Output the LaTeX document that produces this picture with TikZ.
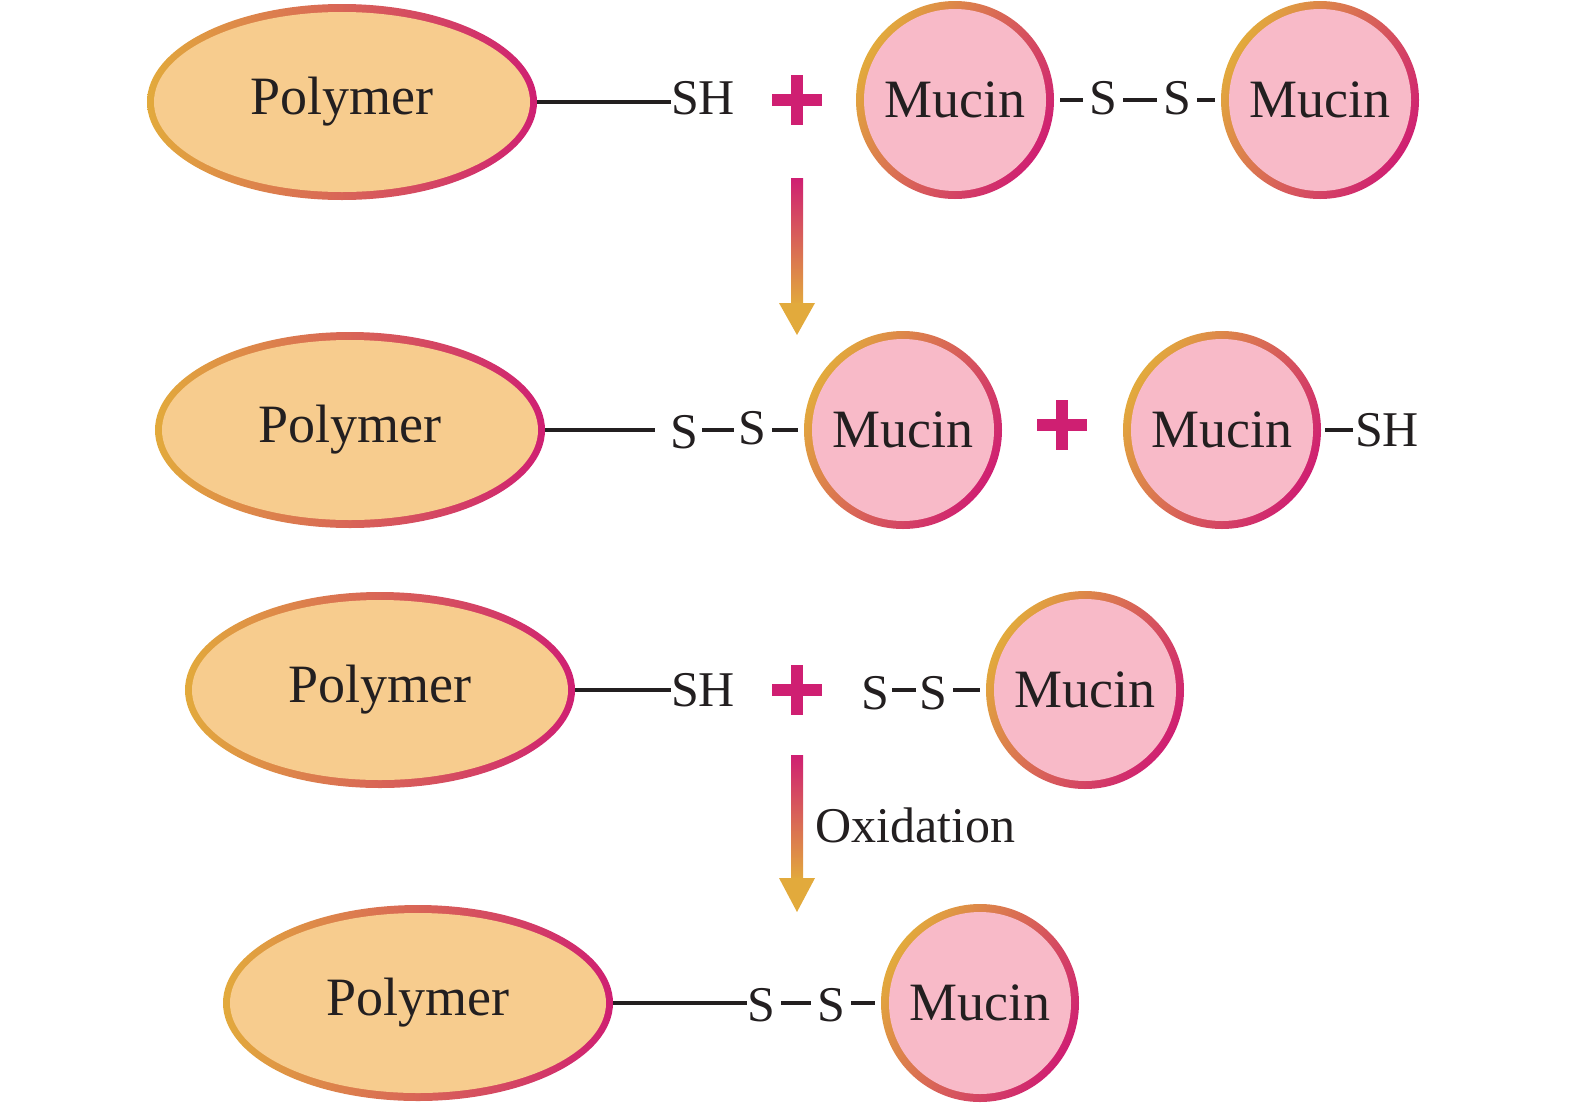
\documentclass[tikz,border=0pt]{standalone}
\usepackage{fontspec}
\setmainfont{Liberation Serif}
\usetikzlibrary{shapes.geometric}
\definecolor{org}{HTML}{E2AA3C}
\definecolor{mag}{HTML}{CF1F72}
\definecolor{polyfill}{HTML}{F7CC8E}
\definecolor{mucfill}{HTML}{F8BAC8}
\definecolor{txt}{HTML}{231F20}
\begin{document}
\begin{tikzpicture}[x=1pt,y=-1pt,
 poly/.style={ellipse,minimum width=390,minimum height=196,inner sep=0,left color=org,right color=mag,
   path picture={\fill[polyfill] (path picture bounding box.center) ellipse [x radius=188,y radius=90];},
   font=\fontsize{54}{54}\selectfont,text=txt},
 muc/.style={circle,minimum size=198,inner sep=0,shading=axis,left color=org,right color=mag,shading angle=60,
   path picture={\fill[mucfill] (path picture bounding box.center) circle [radius=91];},
   font=\fontsize{54}{54}\selectfont,text=txt},
 lab/.style={inner sep=0,font=\fontsize{50}{50}\selectfont,text=txt},
 bond/.style={line width=3.5pt,txt},
 sdash/.style={line width=4pt,txt,shorten <=6,shorten >=6},
 plus/.style={line width=12,mag},
]
\useasboundingbox (0,0) rectangle (1575,1112);
\def\plus#1#2{\draw[plus] (#1-25,#2) -- (#1+25,#2); \draw[plus] (#1,#2-25) -- (#1,#2+25);}
% row 1
\node[poly] (p1) at (342,102) {Polymer};
\node[lab] (sh1) at (703,98) {SH};
\draw[bond] (p1.east) -- (p1.east -| sh1.west);
\plus{797}{100}
\node[muc] (m1a) at (955,100) {Mucin};
\node[lab] (s1a) at (1103,98) {S};
\node[lab] (s1b) at (1177,98) {S};
\node[muc] (m1b) at (1320,100) {Mucin};
\draw[sdash] (m1a.east) -- (m1a.east -| s1a.west);
\draw[sdash] (m1a.east -| s1a.east) -- (m1a.east -| s1b.west);
\draw[sdash] (m1a.east -| s1b.east) -- (m1b.west);
% arrow 1
\shade[top color=mag,bottom color=org] (791,178) rectangle (803,305);
\fill[org] (779,303) -- (815,303) -- (797,335) -- cycle;
% row 2
\node[poly] (p2) at (350,430) {Polymer};
\node[lab] (s2a) at (684,432) {S};
\node[lab] (s2b) at (752,428) {S};
\node[muc] (m2a) at (903,430) {Mucin};
\draw[bond] (p2.east) -- (655,430);
\draw[sdash,shorten <=4,shorten >=4] (s2a.east |- m2a.west) -- (s2b.west |- m2a.west);
\draw[sdash] (s2b.east |- m2a.west) -- (m2a.west);
\plus{1062}{425}
\node[muc] (m2b) at (1222,430) {Mucin};
\node[lab] (sh2) at (1387,430) {SH};
\draw[sdash,shorten <=4,shorten >=2] (m2b.east) -- (sh2.west);
% row 3
\node[poly] (p3) at (380,690) {Polymer};
\node[lab] (sh3) at (703,690) {SH};
\draw[bond] (p3.east) -- (sh3.west);
\plus{797}{690}
\node[lab] (s3a) at (875,693) {S};
\node[lab] (s3b) at (933,693) {S};
\node[muc] (m3) at (1085,690) {Mucin};
\draw[sdash,shorten <=3,shorten >=3] (s3a.east |- m3.west) -- (s3b.west |- m3.west);
\draw[sdash] (s3b.east |- m3.west) -- (m3.west);
% arrow 2
\shade[top color=mag,bottom color=org] (791,755) rectangle (803,880);
\fill[org] (779,878) -- (815,878) -- (797,912) -- cycle;
\node[lab,anchor=west] (ox) at (815,825) {Oxidation};
% row 4
\node[poly] (p4) at (418,1003) {Polymer};
\node[lab] (s4a) at (761,1005) {S};
\node[lab] (s4b) at (831,1005) {S};
\node[muc] (m4) at (980,1003) {Mucin};
\draw[bond] (p4.east) -- (p4.east -| s4a.west);
\draw[sdash] (s4a.east |- m4.west) -- (s4b.west |- m4.west);
\draw[sdash] (s4b.east |- m4.west) -- (m4.west);
\end{tikzpicture}
\end{document}
